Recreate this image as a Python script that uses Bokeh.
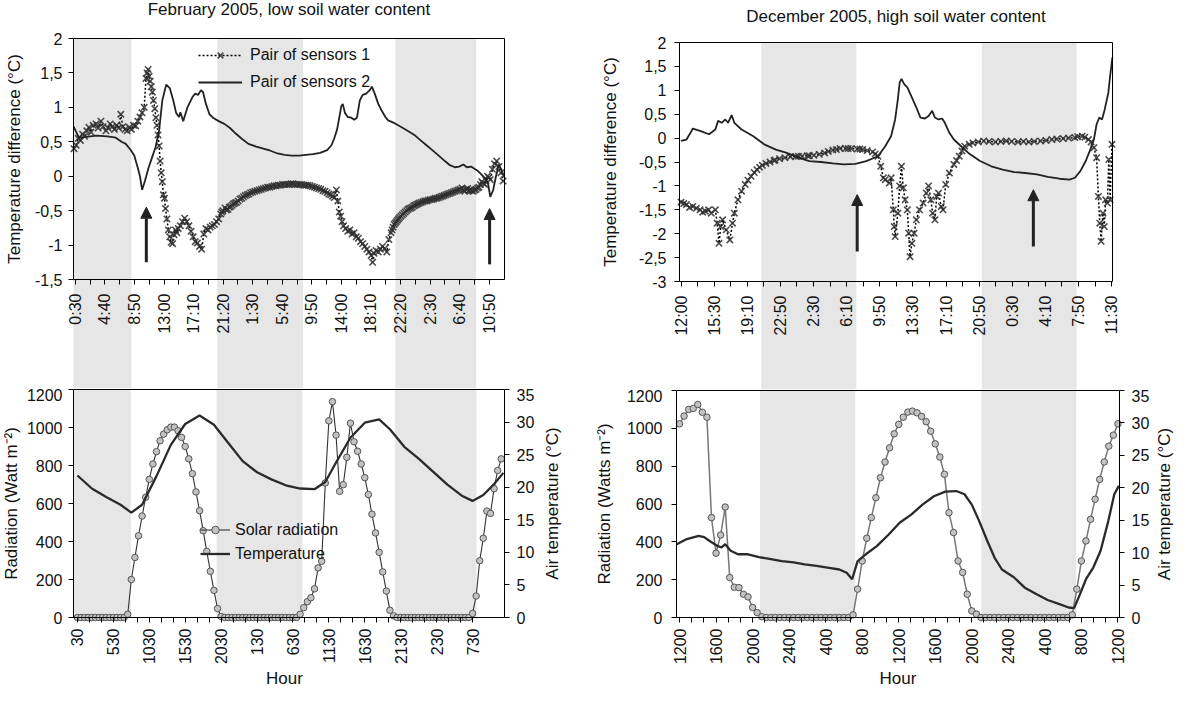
import math
from bokeh.plotting import figure
from bokeh.layouts import row, column
from bokeh.models import (Range1d, LinearAxis, FixedTicker, BoxAnnotation, Arrow,
                          NormalHead, Legend, LegendItem, Label)
from bokeh.embed import file_html
from bokeh.resources import INLINE

FONT = "Liberation Sans"
BAND = "#e6e6e6"
INK = "#111111"

# ======================= DATA =======================
# ---- Top-left: February 2005 (hours from day-1 midnight) ----
feb_title = "February 2005, low soil water content"
feb_x_range = [0.23, 61.0]
feb_tick_hours = [0.5, 4.667, 8.833, 13.0, 17.167, 21.333, 25.5, 29.667, 33.833,
                  38.0, 42.167, 46.333, 50.5, 54.667, 58.833]
feb_tick_labels = ["0:30", "4:40", "8:50", "13:00", "17:10", "21:20", "1:30", "5:40",
                   "9:50", "14:00", "18:10", "22:20", "2:30", "6:40", "10:50"]
feb_night = [(0.23, 8.4), (20.5, 32.6), (45.6, 57.0)]
diff_ticks_feb = [-1.5, -1.0, -0.5, 0.0, 0.5, 1.0, 1.5, 2.0]
diff_labels_feb = ["-1,5", "-1", "-0,5", "0", "0,5", "1", "1,5", "2"]

feb_s1_h = [0.3, 0.6, 0.9, 1.2, 1.5, 1.8, 2.1, 2.4, 2.7, 3.0, 3.4, 3.7, 4.1, 4.4, 4.8, 5.1,
            5.4, 5.7, 6.0, 6.3, 6.6, 6.9, 7.2, 7.5, 7.8, 8.1, 8.4, 8.7, 9.0, 9.3, 9.6, 9.9,
            10.2, 10.45, 10.6, 10.75, 10.9, 11.05, 11.2, 11.35, 11.5, 11.7, 11.85, 12.0,
            12.15, 12.3, 12.45, 12.6, 12.75, 12.9, 13.05, 13.2, 13.4, 13.6, 13.8, 14.0,
            14.2, 14.4, 14.6, 14.8, 15.0, 15.3, 15.6, 15.9, 16.2, 16.5, 16.8, 17.1, 17.4,
            17.7, 18.0, 18.3, 18.6, 18.9, 19.2, 19.5, 19.8, 20.1, 20.4, 20.7, 21.0, 21.3,
            21.6, 22.0, 22.4, 22.8, 23.2, 23.7, 24.2, 24.7, 25.2, 25.8, 26.4, 27.0, 27.6,
            28.2, 28.8, 29.4, 30.0, 30.6, 31.2, 31.8, 32.4, 33.0, 33.6, 34.2, 34.8, 35.4,
            36.0, 36.5, 37.0, 37.3, 37.5, 37.7, 37.9, 38.1, 38.3, 38.6, 38.9, 39.2, 39.5,
            39.8, 40.1, 40.4, 40.7, 41.0, 41.3, 41.6, 41.9, 42.2, 42.4, 42.6, 42.9, 43.2,
            43.5, 43.8, 44.1, 44.4, 44.7, 45.0, 45.3, 45.6, 45.9, 46.2, 46.6, 47.0, 47.4,
            47.8, 48.2, 48.6, 49.0, 49.5, 50.0, 50.5, 51.0, 51.5, 52.0, 52.5, 53.0, 53.5,
            54.0, 54.5, 55.0, 55.4, 55.8, 56.2, 56.6, 57.0, 57.4, 57.8, 58.2, 58.6, 59.0,
            59.3, 59.6, 59.9, 60.2, 60.5, 60.8,
            # additional readings along the dense marker band
            21.15, 21.8, 22.2, 22.6, 23.0, 23.45, 23.95, 24.45, 24.95, 25.5, 26.1, 26.7,
            27.3, 27.9, 28.5, 29.1, 29.7, 30.3, 30.9, 31.5, 32.1, 32.7, 33.3, 33.9, 34.5,
            35.1, 35.7, 36.25, 36.75, 45.15, 45.45, 45.75, 46.05, 46.4, 46.8, 47.2, 47.6,
            48.0, 48.4, 48.8, 49.25, 49.75, 50.25, 50.75, 51.25, 51.75, 52.25, 52.75,
            53.25, 53.75, 54.25, 54.75, 55.2, 55.6, 56.0, 56.4, 56.8, 57.2, 57.6, 58.0,
            58.4, 58.8]
feb_s1_v = [0.40, 0.45, 0.55, 0.52, 0.61, 0.58, 0.66, 0.71, 0.64, 0.74, 0.76, 0.70, 0.80,
            0.72, 0.66, 0.70, 0.76, 0.72, 0.68, 0.74, 0.70, 0.90, 0.72, 0.68, 0.66, 0.71,
            0.68, 0.74, 0.73, 0.80, 0.86, 0.92, 1.00, 1.42, 1.50, 1.55, 1.45, 1.38, 1.30,
            1.22, 1.10, 0.98, 0.85, 0.74, 0.60, 0.44, 0.22, 0.05, -0.08, -0.27, -0.32,
            -0.47, -0.62, -0.78, -0.88, -0.96, -0.98, -0.85, -0.78, -0.82, -0.76, -0.72,
            -0.66, -0.61, -0.66, -0.72, -0.80, -0.88, -0.95, -0.97, -1.02, -1.06, -0.84,
            -0.76, -0.78, -0.74, -0.72, -0.70, -0.66, -0.62, -0.55, -0.50, -0.46, -0.48,
            -0.44, -0.40, -0.38, -0.33, -0.30, -0.27, -0.24, -0.22, -0.20, -0.18, -0.16,
            -0.15, -0.14, -0.13, -0.12, -0.12, -0.11, -0.12, -0.12, -0.13, -0.14, -0.16,
            -0.18, -0.21, -0.24, -0.27, -0.31, -0.20, -0.36, -0.52, -0.58, -0.66, -0.72,
            -0.76, -0.80, -0.78, -0.84, -0.82, -0.88, -0.90, -0.95, -0.98, -1.02, -1.06,
            -1.10, -1.15, -1.25, -1.12, -1.08, -1.10, -1.06, -1.02, -1.05, -1.10, -0.92,
            -0.82, -0.74, -0.68, -0.64, -0.60, -0.56, -0.52, -0.48, -0.46, -0.43, -0.41,
            -0.39, -0.37, -0.36, -0.34, -0.33, -0.32, -0.30, -0.28, -0.26, -0.24, -0.22,
            -0.20, -0.17, -0.22, -0.18, -0.20, -0.22, -0.19, -0.16, -0.08, -0.12, 0.00,
            -0.05, 0.10, 0.18, 0.22, 0.14, 0.05, -0.07,
            -0.52, -0.49, -0.45, -0.42, -0.39, -0.36, -0.32, -0.28, -0.26, -0.23, -0.21,
            -0.19, -0.17, -0.16, -0.14, -0.13, -0.12, -0.12, -0.11, -0.12, -0.12, -0.13,
            -0.13, -0.15, -0.17, -0.19, -0.22, -0.26, -0.29, -0.78, -0.70, -0.66, -0.62,
            -0.58, -0.54, -0.50, -0.47, -0.45, -0.42, -0.40, -0.38, -0.36, -0.35, -0.34,
            -0.32, -0.31, -0.29, -0.27, -0.25, -0.23, -0.21, -0.19, -0.20, -0.19, -0.21,
            -0.21, -0.20, -0.17, -0.12, -0.10, -0.06, -0.02]

feb_s2_h = [0.25, 1.0, 2.0, 3.5, 5.0, 6.2, 7.0, 7.6, 8.3, 8.8, 9.3, 9.6, 9.9, 10.3, 10.8,
            11.3, 11.8, 12.3, 12.75, 13.3, 13.8, 14.3, 14.7, 15.1, 15.3, 15.7, 16.3, 17.0,
            17.4, 17.8, 18.2, 18.5, 18.9, 19.4, 19.9, 20.7, 21.5, 22.3, 23.1, 24.0, 24.9,
            26.0, 27.0, 28.0, 29.0, 30.0, 31.0, 32.0, 33.0, 34.0, 35.0, 36.0, 36.6, 37.0,
            37.4, 37.7, 38.0, 38.2, 38.5, 38.9, 39.4, 39.8, 40.2, 40.6, 41.0, 41.5, 42.0,
            42.3, 42.7, 43.2, 43.7, 44.2, 44.6, 45.5, 46.5, 47.5, 48.4, 49.3, 50.0, 50.7,
            51.6, 52.6, 53.3, 54.0, 54.6, 55.2, 55.7, 56.3, 56.6, 57.2, 57.8, 58.4, 58.7,
            59.0, 59.4, 59.8, 60.2, 60.6, 61.0]
feb_s2_v = [0.72, 0.56, 0.57, 0.59, 0.58, 0.56, 0.50, 0.47, 0.38, 0.30, 0.12, 0.00, -0.20,
            -0.07, 0.12, 0.27, 0.42, 0.66, 1.10, 1.33, 1.28, 1.10, 0.92, 0.86, 0.93, 0.80,
            1.00, 1.15, 1.20, 1.18, 1.25, 1.22, 1.05, 0.90, 0.85, 0.80, 0.76, 0.70, 0.62,
            0.54, 0.47, 0.43, 0.40, 0.37, 0.33, 0.31, 0.30, 0.30, 0.31, 0.32, 0.34, 0.38,
            0.45, 0.55, 0.68, 0.85, 1.02, 1.05, 0.92, 0.86, 0.85, 0.82, 0.85, 1.10, 1.18,
            1.20, 1.25, 1.30, 1.20, 1.05, 0.95, 0.86, 0.81, 0.77, 0.71, 0.65, 0.59, 0.51,
            0.45, 0.39, 0.31, 0.22, 0.16, 0.13, 0.14, 0.17, 0.13, 0.14, 0.12, 0.08, 0.02,
            -0.05, -0.12, -0.30, -0.20, 0.00, 0.17, 0.08, -0.02]
feb_arrow_h = [10.5, 58.9]
feb_arrow_from = [-1.25, -1.28]
feb_arrow_to = [-0.45, -0.47]

# ---- Top-right: December 2005 ----
dec_title = "December 2005, high soil water content"
dec_x_range = [11.83, 59.76]
dec_tick_hours = [12.0, 15.667, 19.333, 23.0, 26.667, 30.333, 34.0, 37.667, 41.333,
                  45.0, 48.667, 52.333, 56.0, 59.667]
dec_tick_labels = ["12:00", "15:30", "19:10", "22:50", "2:30", "6:10", "9:50", "13:30",
                   "17:10", "20:50", "0:30", "4:10", "7:50", "11:30"]
dec_night = [(20.88, 31.4), (45.3, 55.8)]
diff_ticks_dec = [-3.0, -2.5, -2.0, -1.5, -1.0, -0.5, 0.0, 0.5, 1.0, 1.5, 2.0]
diff_labels_dec = ["-3", "-2,5", "-2", "-1,5", "-1", "-0,5", "0", "0,5", "1", "1,5", "2"]

dec_s1_h = [12.0, 12.6, 13.3, 14.1, 14.7, 15.35, 15.8, 16.0, 16.2, 16.4, 16.6, 17.0, 17.4,
            17.7, 17.9, 18.3, 18.7, 19.1, 19.75, 20.4, 21.0, 21.85, 22.9, 24.1, 25.4, 26.7,
            27.9, 28.8, 29.6, 30.85, 32.1, 33.2, 33.8, 34.1, 34.4, 34.6, 35.05, 35.25, 35.5,
            35.6, 35.7, 36.0, 36.2, 36.4, 36.6, 36.8, 37.05, 37.2, 37.35, 37.55, 37.8, 38.05,
            38.4, 38.8, 39.15, 39.4, 39.65, 39.85, 40.1, 40.3, 40.5, 40.8, 41.0, 41.3, 41.7,
            42.2, 42.8, 43.4, 44.3, 45.5, 46.8, 48.0, 49.3, 50.5, 51.8, 53.05, 54.3, 55.6,
            56.4, 57.1, 57.7, 58.0, 58.2, 58.35, 58.5, 58.7, 58.85, 59.0, 59.2, 59.35, 59.5,
            59.7,
            # additional readings along the dense marker band
            12.3, 12.95, 13.7, 14.4, 15.05, 19.4, 20.1, 20.7, 21.4, 22.3, 22.4, 23.5, 24.7,
            25.0, 26.0, 26.2, 27.3, 28.3, 29.2, 30.2, 30.5, 31.5, 31.8, 32.6, 33.5, 42.5,
            43.1, 43.9, 44.9, 46.1, 47.4, 48.6, 49.9, 51.1, 52.4, 53.6, 54.9, 55.9, 56.7,
            57.4]
dec_s1_v = [-1.34, -1.39, -1.43, -1.50, -1.53, -1.57, -1.50, -1.78, -2.20, -1.85, -1.71,
            -1.92, -2.13, -1.78, -1.57, -1.29, -1.11, -0.97, -0.80, -0.66, -0.57, -0.50,
            -0.43, -0.39, -0.38, -0.36, -0.31, -0.25, -0.22, -0.22, -0.24, -0.29, -0.38,
            -0.59, -0.83, -0.87, -0.94, -0.83, -1.50, -1.85, -2.06, -1.57, -1.00, -0.59,
            -1.04, -1.29, -1.50, -1.99, -2.48, -2.20, -1.99, -1.71, -1.50, -1.36, -1.15,
            -1.00, -1.29, -1.57, -1.71, -1.22, -1.15, -1.43, -1.50, -0.97, -0.73, -0.55,
            -0.38, -0.17, -0.10, -0.06, -0.08, -0.06, -0.08, -0.08, -0.06, -0.03, -0.01,
            0.01, 0.04, -0.03, -0.20, -0.41, -1.22, -1.78, -2.16, -1.57, -1.85, -1.29,
            -1.36, -0.45, -1.29, -0.13,
            -1.37, -1.45, -1.47, -1.55, -1.50, -0.88, -0.72, -0.61, -0.53, -0.47, -0.46,
            -0.41, -0.385, -0.38, -0.37, -0.37, -0.34, -0.28, -0.24, -0.22, -0.22, -0.23,
            -0.23, -0.26, -0.33, -0.47, -0.27, -0.13, -0.08, -0.07, -0.07, -0.07, -0.07,
            -0.07, -0.05, -0.02, 0.00, 0.03, 0.02, -0.08]

dec_s2_h = [12.0, 12.6, 13.05, 13.3, 14.1, 15.1, 15.8, 16.1, 16.5, 16.9, 17.2, 17.6, 17.9,
            18.7, 20.0, 21.2, 22.5, 23.7, 25.0, 26.2, 27.5, 28.8, 30.0, 31.3, 32.5, 33.8,
            34.6, 35.25, 35.7, 36.0, 36.2, 36.4, 36.7, 37.05, 37.55, 38.05, 38.5, 39.0,
            39.4, 39.8, 40.1, 40.5, 40.9, 41.2, 41.7, 42.2, 43.0, 43.8, 45.1, 46.35, 47.6,
            48.9, 50.1, 51.4, 52.6, 53.9, 55.0, 55.6, 56.2, 56.8, 57.3, 57.7, 58.0, 58.3,
            58.6, 58.9, 59.3, 59.5, 59.75]
dec_s2_v = [-0.06, -0.03, 0.11, 0.20, 0.15, 0.08, 0.18, 0.36, 0.32, 0.39, 0.32, 0.48, 0.32,
            0.18, 0.04, -0.13, -0.24, -0.31, -0.41, -0.48, -0.50, -0.53, -0.55, -0.54,
            -0.48, -0.38, -0.17, 0.04, 0.39, 0.81, 1.16, 1.24, 1.13, 1.06, 0.85, 0.64, 0.43,
            0.41, 0.46, 0.57, 0.43, 0.39, 0.41, 0.32, 0.11, -0.03, -0.17, -0.31, -0.48,
            -0.59, -0.66, -0.71, -0.73, -0.76, -0.81, -0.85, -0.87, -0.83, -0.69, -0.48,
            -0.24, -0.03, 0.29, 0.43, 0.39, 0.60, 0.95, 1.30, 1.69]
dec_arrow_h = [31.5, 51.0]
dec_arrow_from = [-2.37, -2.27]
dec_arrow_to = [-1.18, -1.08]

# ---- Bottom-left: February radiation / temperature ----
febr_x_range = [-0.05, 59.95]
febr_tick_hours = [0.5, 5.5, 10.5, 15.5, 20.5, 25.5, 30.5, 35.5, 40.5, 45.5, 50.5, 55.5]
febr_tick_labels = ["30", "530", "1030", "1530", "2030", "130", "630", "1130", "1630",
                    "2130", "230", "730"]
febr_night = [(-0.05, 7.93), (19.86, 31.8), (44.7, 56.05)]
febr_rad_start = 0.5     # first half-hourly reading
febr_rad = [0, 0, 0, 0, 0, 0, 0, 0, 0, 0, 0, 0, 0, 0,
            17, 200, 316, 430, 534, 633, 727, 808, 873, 930, 965, 988, 1002, 1002, 983,
            948, 900, 835, 757, 661, 562, 457, 348, 243, 143, 47, 5,
            0, 0, 0, 0, 0, 0, 0, 0, 0, 0, 0, 0, 0, 0, 0, 0, 0, 0, 0, 0, 0,
            17, 52, 83, 104, 151, 261, 296, 708, 1035, 1136, 960, 664, 699, 843, 1023, 925,
            875, 808, 736, 647, 544, 445, 343, 240, 139, 38, 9,
            0, 0, 0, 0, 0, 0, 0, 0, 0, 0, 0, 0, 0, 0, 0, 0, 0, 0, 0, 0, 0,
            21, 113, 299, 417, 560, 548, 678, 774, 835]
febr_temp_h = [0.5, 2.5, 4.5, 6.5, 8.0, 9.5, 11.5, 13.5, 15.5, 17.5, 19.5, 21.5, 23.5,
               25.5, 27.5, 29.5, 31.5, 33.5, 35.0, 36.5, 38.5, 40.5, 42.5, 44.0, 46.0,
               48.0, 50.0, 52.0, 54.0, 55.5, 57.0, 58.5, 59.8]
febr_temp = [21.8, 19.8, 18.5, 17.3, 16.1, 17.3, 21.7, 26.5, 29.7, 31.0, 29.6, 26.8, 24.0,
             22.3, 21.2, 20.3, 19.8, 19.7, 20.8, 23.8, 27.6, 29.9, 30.4, 28.9, 26.2, 24.4,
             22.4, 20.4, 18.7, 17.9, 18.8, 20.5, 22.2]

# ---- Bottom-right: December radiation / temperature ----
decr_x_range = [11.67, 60.17]
decr_tick_hours = [12, 16, 20, 24, 28, 32, 36, 40, 44, 48, 52, 56, 60]
decr_tick_labels = ["1200", "1600", "2000", "2400", "400", "800", "1200", "1600", "2000",
                    "2400", "400", "800", "1200"]
decr_night = [(20.81, 31.24), (45.04, 55.43)]
decr_rad_start = 12.0
decr_rad = [1024, 1065, 1100, 1105, 1126, 1085, 1059, 528, 340, 436, 584, 211, 160, 158,
            123, 109, 53, 26, 4,
            0, 0, 0, 0, 0, 0, 0, 0, 0, 0, 0, 0, 0, 0, 0, 0, 0, 0, 0,
            14, 150, 299, 419, 528, 633, 739, 822, 897, 971, 1021, 1059, 1086, 1091, 1082,
            1063, 1035, 985, 918, 848, 757, 554, 449, 299, 238, 123, 35, 18,
            0, 0, 0, 0, 0, 0, 0, 0, 0, 0, 0, 0, 0, 0, 0, 0, 0, 0, 0, 0,
            14, 150, 299, 405, 519, 625, 730, 822, 906, 964, 1024]
decr_temp_h = [11.7, 12.8, 14.1, 14.7, 15.3, 16.2, 16.6, 17.0, 17.6, 18.4, 19.5, 20.7, 22.0,
               23.2, 24.5, 25.7, 27.0, 28.2, 29.5, 30.3, 30.9, 31.5, 32.4, 33.6, 34.9, 36.1,
               37.4, 38.6, 39.85, 41.1, 42.3, 43.2, 44.0, 44.8, 45.7, 46.5, 47.3, 48.6, 49.8,
               51.1, 52.3, 53.6, 54.6, 55.2, 55.85, 56.5, 57.3, 58.1, 58.95, 59.6, 60.1]
decr_temp = [11.3, 12.1, 12.6, 12.4, 11.8, 11.0, 10.8, 11.3, 10.3, 9.75, 9.75, 9.3, 9.0,
             8.7, 8.5, 8.2, 7.95, 7.7, 7.4, 6.9, 5.9, 8.7, 9.75, 11.0, 12.8, 14.6, 15.9,
             17.4, 18.7, 19.4, 19.5, 19.0, 17.4, 14.9, 11.8, 9.2, 7.4, 6.2, 4.6, 3.6, 2.7,
             2.05, 1.54, 1.44, 3.6, 5.9, 7.7, 10.3, 14.9, 19.0, 20.3]

rad_ticks = [0, 200, 400, 600, 800, 1000, 1200]
temp_ticks = [0, 5, 10, 15, 20, 25, 30, 35]

# ======================= PAGE GEOMETRY (px) =======================
# canvas = (x0, y0, x1, y1) on the page; box = the drawn axes box of each panel
TL_CANVAS, TL_BOX = (8, 8, 598, 396), (81, 46, 512, 287)
BL_CANVAS, BL_BOX = (8, 396, 598, 697), (81, 397, 512, 625)
TR_CANVAS, TR_BOX = (598, 8, 1184, 397), (687, 50, 1120, 289)
BR_CANVAS, BR_BOX = (598, 397, 1184, 697), (684, 398, 1127, 625)


def mapper(canvas, box, xd, yd):
    bx0, by0, bx1, by1 = box
    sx = (xd[1] - xd[0]) / (bx1 - bx0)
    sy = (yd[1] - yd[0]) / (by1 - by0)
    return (lambda px: xd[0] + (px - bx0) * sx), (lambda py: yd[0] + (by1 - py) * sy)


def base_fig(canvas, box, xd, yd):
    gx, gy = mapper(canvas, box, xd, yd)
    cx0, cy0, cx1, cy1 = canvas
    p = figure(width=cx1 - cx0, height=cy1 - cy0,
               x_range=Range1d(gx(cx0), gx(cx1)), y_range=Range1d(gy(cy1), gy(cy0)),
               output_backend="svg", toolbar_location=None,
               min_border_left=0, min_border_right=0, min_border_top=0,
               min_border_bottom=0)
    p.grid.visible = False
    p.outline_line_color = None
    p.background_fill_color = "white"
    p.border_fill_color = "white"
    return p, gx, gy


def style_axis(ax, ticks, labels, minor, orient=None, label_standoff=6):
    ax.ticker = FixedTicker(ticks=ticks, minor_ticks=minor)
    ax.major_label_overrides = dict(zip(ticks, labels))
    ax.axis_line_color = "black"
    ax.major_tick_line_color = "black"
    ax.minor_tick_line_color = "black"
    ax.major_tick_in = 0
    ax.major_tick_out = 5
    ax.minor_tick_in = 0
    ax.minor_tick_out = 5
    ax.major_label_text_font = FONT
    ax.major_label_text_font_size = "16px"
    ax.major_label_text_color = INK
    ax.major_label_standoff = label_standoff
    if orient is not None:
        ax.major_label_orientation = orient


def border_line(p, side, loc, bounds, **kw):
    ax = LinearAxis(fixed_location=loc, bounds=bounds, ticker=FixedTicker(ticks=[]),
                    axis_line_color="black", major_label_text_alpha=0,
                    major_tick_line_color=None, minor_tick_line_color=None, **kw)
    p.add_layout(ax, side)


def add_text(p, x, y, text, angle=0.0, size="17px", y_range_name="default"):
    p.add_layout(Label(x=x, y=y, text=text, angle=angle, text_font=FONT,
                       text_font_size=size, text_font_style="normal", text_color=INK,
                       text_align="center", text_baseline="middle",
                       y_range_name=y_range_name))


def midpoints(t):
    return [(a + b) / 2 for a, b in zip(t[:-1], t[1:])]


def thirds(t):
    out = []
    for a, b in zip(t[:-1], t[1:]):
        out += [a + (b - a) / 3, a + 2 * (b - a) / 3]
    return out


def add_bands(p, bands, top=None, bottom=None):
    for a, b in bands:
        p.add_layout(BoxAnnotation(left=a, right=b, top=top, bottom=bottom,
                                   fill_color=BAND, fill_alpha=1.0, line_color=None,
                                   level="underlay"))


def style_legend(leg, glyph_width, row_h, spacing, standoff):
    leg.label_text_font = FONT
    leg.label_text_font_size = "16px"
    leg.label_text_color = INK
    leg.glyph_width = glyph_width
    leg.glyph_height = row_h
    leg.label_height = row_h
    leg.label_standoff = standoff
    leg.spacing = spacing
    leg.padding = 0
    leg.margin = 0
    leg.background_fill_alpha = 0
    leg.border_line_alpha = 0


def diff_panel(canvas, box, xd, ticks, tlabels, night, yticks, ylabels, ytick_standoff,
               title, title_pos, ylab_x, s1h, s1v, s2h, s2v, ah, af, at, legend_pos=None):
    yd = (yticks[0], yticks[-1])
    p, gx, gy = base_fig(canvas, box, xd, yd)
    # night bands run from the box top down through the time labels
    add_bands(p, night, top=yd[1])

    xax = p.xaxis[0]
    style_axis(xax, ticks, tlabels, midpoints(ticks), math.pi / 2, 9)
    xax.fixed_location = yd[0]
    xax.bounds = tuple(xd)

    yax = p.yaxis[0]
    style_axis(yax, yticks, ylabels, [], None, ytick_standoff)
    yax.fixed_location = xd[0]
    yax.bounds = yd

    border_line(p, "right", xd[1], yd)
    border_line(p, "above", yd[1], tuple(xd))

    add_text(p, gx(title_pos[0]), gy(title_pos[1]), title)
    add_text(p, gx(ylab_x), (yd[0] + yd[1]) / 2, "Temperature difference (°C)",
             angle=math.pi / 2)

    s1 = sorted(zip(s1h, s1v))
    s1x = [a for a, _ in s1]
    s1y = [b for _, b in s1]
    l1 = p.line(s1x, s1y, line_color="black", line_width=1.5, line_dash="2 2")
    m1 = p.scatter(s1x, s1y, marker="x", size=9, line_color="#2e2e2e", line_width=1.6,
                   line_alpha=0.85)
    l2 = p.line(s2h, s2v, line_color="#222222", line_width=1.8)
    for x, y0, y1 in zip(ah, af, at):
        p.add_layout(Arrow(end=NormalHead(size=11, fill_color="#222222",
                                          line_color="#222222"),
                           x_start=x, y_start=y0, x_end=x, y_end=y1,
                           line_width=3, line_color="#222222"))
    if legend_pos is not None:
        leg = Legend(items=[LegendItem(label="Pair of sensors 1", renderers=[l1, m1]),
                            LegendItem(label="Pair of sensors 2", renderers=[l2])],
                     location=(legend_pos[0] - canvas[0], canvas[3] - legend_pos[1]))
        style_legend(leg, 44, 20, 7, 8)
        p.add_layout(leg)
    return p


def rad_panel(canvas, box, xd, ticks, tlabels, night, rad_start, rad, th, tv, ylabel,
              rad_line_color, rad_line_width, ytick_standoff, ylab_x, rlab_x, hour_pos,
              legend_pos=None):
    p, gx, gy = base_fig(canvas, box, xd, (0, 1200))
    tgx, tgy = mapper(canvas, box, xd, (0, 35))
    p.extra_y_ranges = {"temp": Range1d(tgy(canvas[3]), tgy(canvas[1]))}
    # night bands run from the top of this canvas down to the box bottom
    add_bands(p, night, bottom=0)

    xax = p.xaxis[0]
    style_axis(xax, ticks, tlabels, thirds(ticks), math.pi / 2, 6)
    xax.fixed_location = 0
    xax.bounds = tuple(xd)

    yax = p.yaxis[0]
    style_axis(yax, rad_ticks, [str(v) for v in rad_ticks], [], None, ytick_standoff)
    yax.fixed_location = xd[0]
    yax.bounds = (0, 1200)

    rax = LinearAxis(y_range_name="temp")
    style_axis(rax, temp_ticks, [str(v) for v in temp_ticks], [], None, 7)
    rax.fixed_location = xd[1]
    rax.bounds = (0, 35)
    p.add_layout(rax, "right")

    border_line(p, "above", 1200, tuple(xd))

    add_text(p, gx(ylab_x), 600, ylabel, angle=math.pi / 2)
    add_text(p, gx(rlab_x), 600, "Air temperature (°C)", angle=math.pi / 2)
    add_text(p, gx(hour_pos[0]), gy(hour_pos[1]), "Hour")

    rh = [rad_start + 0.5 * i for i in range(len(rad))]
    rl = p.line(rh, rad, line_color=rad_line_color, line_width=rad_line_width)
    rm = p.scatter(rh, rad, marker="circle", size=6.5, fill_color="#c2c2c2",
                   line_color="#555555", line_width=1)
    tl = p.line(th, tv, y_range_name="temp", line_color="#2a2a2a", line_width=2.3)
    if legend_pos is not None:
        leg = Legend(items=[LegendItem(label="Solar radiation", renderers=[rl, rm]),
                            LegendItem(label="Temperature", renderers=[tl])],
                     location=(legend_pos[0] - canvas[0], canvas[3] - legend_pos[1]))
        style_legend(leg, 30, 19, 5, 5)
        p.add_layout(leg)
    return p


# ======================= FIGURES =======================
p_tl = diff_panel(TL_CANVAS, TL_BOX, feb_x_range, feb_tick_hours, feb_tick_labels,
                  feb_night, diff_ticks_feb, diff_labels_feb, 6, feb_title, (296.5, 17),
                  22, feb_s1_h, feb_s1_v, feb_s2_h, feb_s2_v, feb_arrow_h, feb_arrow_from,
                  feb_arrow_to, legend_pos=(206, 100))

p_tr = diff_panel(TR_CANVAS, TR_BOX, dec_x_range, dec_tick_hours, dec_tick_labels,
                  dec_night, diff_ticks_dec, diff_labels_dec, 8, dec_title, (903.5, 24),
                  618, dec_s1_h, dec_s1_v, dec_s2_h, dec_s2_v, dec_arrow_h, dec_arrow_from,
                  dec_arrow_to)

p_bl = rad_panel(BL_CANVAS, BL_BOX, febr_x_range, febr_tick_hours, febr_tick_labels,
                 febr_night, febr_rad_start, febr_rad, febr_temp_h, febr_temp,
                 "Radiation (Watt m⁻²)", "#333333", 1.1, 6, 19, 560, (292, 686),
                 legend_pos=(208, 571))

p_br = rad_panel(BR_CANVAS, BR_BOX, decr_x_range, decr_tick_hours, decr_tick_labels,
                 decr_night, decr_rad_start, decr_rad, decr_temp_h, decr_temp,
                 "Radiation (Watts m⁻²)", "#777777", 1.5, 9, 612, 1172, (905.5, 686))

layout = row(column(p_tl, p_bl), column(p_tr, p_br))

with open("out.html", "w") as f:
    f.write(file_html(layout, INLINE))
